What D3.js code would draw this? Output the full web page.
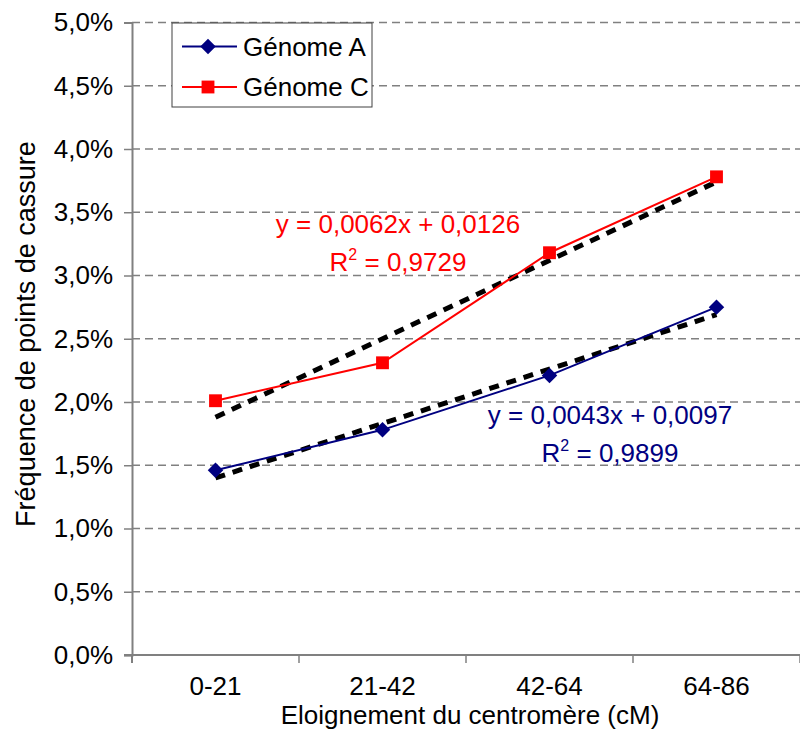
<!DOCTYPE html>
<html>
<head>
<meta charset="utf-8">
<script src="https://cdn.jsdelivr.net/npm/d3@7"></script>
<style>
  body { margin: 0; background: #fff; }
  text { font-family: Arial, "Liberation Sans", sans-serif; }
</style>
</head>
<body>
<div id="chart"></div>
<script>
// data
const categories = ["0-21", "21-42", "42-64", "64-86"];
const genomeA = [0.0146, 0.0178, 0.0221, 0.0275];
const genomeC = [0.0201, 0.0231, 0.0318, 0.0378];
// trend lines: [slope, intercept] as printed on the chart
const trendA = [0.0043, 0.0097];
const trendC = [0.0062, 0.0126];
const labelsA = ["y = 0,0043x + 0,0097", "0,9899"];
const labelsC = ["y = 0,0062x + 0,0126", "0,9729"];
const yTicks = [0, 0.005, 0.01, 0.015, 0.02, 0.025, 0.03, 0.035, 0.04, 0.045, 0.05];

const W = 800, H = 730;
const margin = { top: 22.5, right: 0, bottom: 75, left: 132 };
const fs = 26;

const svg = d3.select("#chart")
  .append("svg")
  .attr("width", W)
  .attr("height", H);

const x = d3.scaleBand()
  .domain(categories)
  .range([margin.left, W - margin.right])
  .padding(0);

const y = d3.scaleLinear()
  .domain([0, 0.05])
  .range([H - margin.bottom, margin.top]);

const fr = d3.formatLocale({ decimal: ",", thousands: " ", grouping: [3], currency: ["", "€"] });
const pct = fr.format(".1%");

// grid lines
svg.append("g")
  .selectAll("line")
  .data(yTicks.filter(d => d > 0))
  .join("line")
  .attr("x1", margin.left)
  .attr("x2", W)
  .attr("y1", d => y(d))
  .attr("y2", d => y(d))
  .attr("stroke", "#808080")
  .attr("stroke-width", 1.5)
  .attr("stroke-dasharray", "8,5");

// y axis
const yAxis = svg.append("g")
  .attr("transform", "translate(" + margin.left + ",0)")
  .call(d3.axisLeft(y).tickValues(yTicks).tickFormat(pct).tickSize(8).tickPadding(11));
yAxis.select(".domain").attr("stroke", "#808080").attr("stroke-width", 2);
yAxis.selectAll(".tick line").attr("stroke", "#808080").attr("stroke-width", 1.5);
yAxis.selectAll(".tick text")
  .attr("font-size", fs)
  .attr("fill", "#000")
  .attr("font-family", "Arial, 'Liberation Sans', sans-serif");

// x axis
const xAxis = svg.append("g")
  .attr("transform", "translate(0," + y(0) + ")")
  .call(d3.axisBottom(x).tickSize(0).tickPadding(22));
xAxis.select(".domain").remove();
xAxis.append("line")
  .attr("x1", margin.left - 8)
  .attr("x2", W)
  .attr("stroke", "#808080")
  .attr("stroke-width", 2);
xAxis.selectAll(".tick text")
  .attr("font-size", fs)
  .attr("fill", "#000")
  .attr("font-family", "Arial, 'Liberation Sans', sans-serif");
// tick marks on category boundaries
xAxis.selectAll(".bound")
  .data(categories.slice(1).concat(["end"]))
  .join("line")
  .attr("class", "bound")
  .attr("x1", (d, i) => x(categories[0]) + x.bandwidth() * (i + 1))
  .attr("x2", (d, i) => x(categories[0]) + x.bandwidth() * (i + 1))
  .attr("y1", 0)
  .attr("y2", 8)
  .attr("stroke", "#808080")
  .attr("stroke-width", 1.5);
xAxis.append("line")
  .attr("x1", margin.left).attr("x2", margin.left)
  .attr("y1", 0).attr("y2", 8)
  .attr("stroke", "#808080").attr("stroke-width", 2);

// axis titles
svg.append("text")
  .attr("x", 470)
  .attr("y", 724)
  .attr("text-anchor", "middle")
  .attr("font-size", fs)
  .text("Eloignement du centromère (cM)");

svg.append("text")
  .attr("transform", "translate(35,334) rotate(-90)")
  .attr("text-anchor", "middle")
  .attr("font-size", 27)
  .text("Fréquence de points de cassure");

const cx = d => x(d) + x.bandwidth() / 2;

// trend lines
function trend(coef) {
  return categories.map((c, i) => [cx(c), y(coef[0] * (i + 1) + coef[1])]);
}
[trendA, trendC].forEach(coef => {
  const pts = trend(coef);
  svg.append("line")
    .attr("x1", pts[0][0]).attr("y1", pts[0][1])
    .attr("x2", pts[3][0]).attr("y2", pts[3][1])
    .attr("stroke", "#000")
    .attr("stroke-width", 5)
    .attr("stroke-dasharray", "10,8");
});

const line = d3.line()
  .x((d, i) => cx(categories[i]))
  .y(d => y(d));

// series
const series = [
  { name: "Génome A", values: genomeA, color: "#000080", size: 120, rot: 45 },
  { name: "Génome C", values: genomeC, color: "#FF0000", size: 165, rot: 0 }
];

series.forEach(s => {
  svg.append("path")
    .datum(s.values)
    .attr("d", line)
    .attr("fill", "none")
    .attr("stroke", s.color)
    .attr("stroke-width", 2);
  svg.append("g")
    .selectAll("path")
    .data(s.values)
    .join("path")
    .attr("transform", (d, i) => "translate(" + cx(categories[i]) + "," + y(d) + ") rotate(" + s.rot + ")")
    .attr("d", d3.symbol().type(d3.symbolSquare).size(s.size))
    .attr("fill", s.color);
});

// trend equations
function equation(lbl, color, xc, yb) {
  const g = svg.append("g").attr("fill", color).attr("font-size", fs).attr("text-anchor", "middle");
  g.append("text").attr("x", xc).attr("y", yb).text(lbl[0]);
  const t = g.append("text").attr("x", xc).attr("y", yb + 38);
  t.append("tspan").text("R");
  t.append("tspan").attr("font-size", 16).attr("dy", -11).text("2");
  t.append("tspan").attr("dy", 11).text(" = " + lbl[1]);
}
equation(labelsC, "#FF0000", 398, 233);
equation(labelsA, "#000080", 610, 424);

// legend
const legend = svg.append("g").attr("transform", "translate(172,23)");
legend.append("rect")
  .attr("width", 200)
  .attr("height", 84)
  .attr("fill", "#fff")
  .attr("stroke", "#404040")
  .attr("stroke-width", 1);
series.forEach((s, i) => {
  const ly = 23.5 + i * 40.5;
  legend.append("line")
    .attr("x1", 10).attr("x2", 65)
    .attr("y1", ly).attr("y2", ly)
    .attr("stroke", s.color).attr("stroke-width", 2);
  legend.append("path")
    .attr("transform", "translate(36," + ly + ") rotate(" + s.rot + ")")
    .attr("d", d3.symbol().type(d3.symbolSquare).size(s.size))
    .attr("fill", s.color);
  legend.append("text")
    .attr("x", 71)
    .attr("y", ly + 9)
    .attr("font-size", fs)
    .text(s.name);
});
</script>
</body>
</html>
